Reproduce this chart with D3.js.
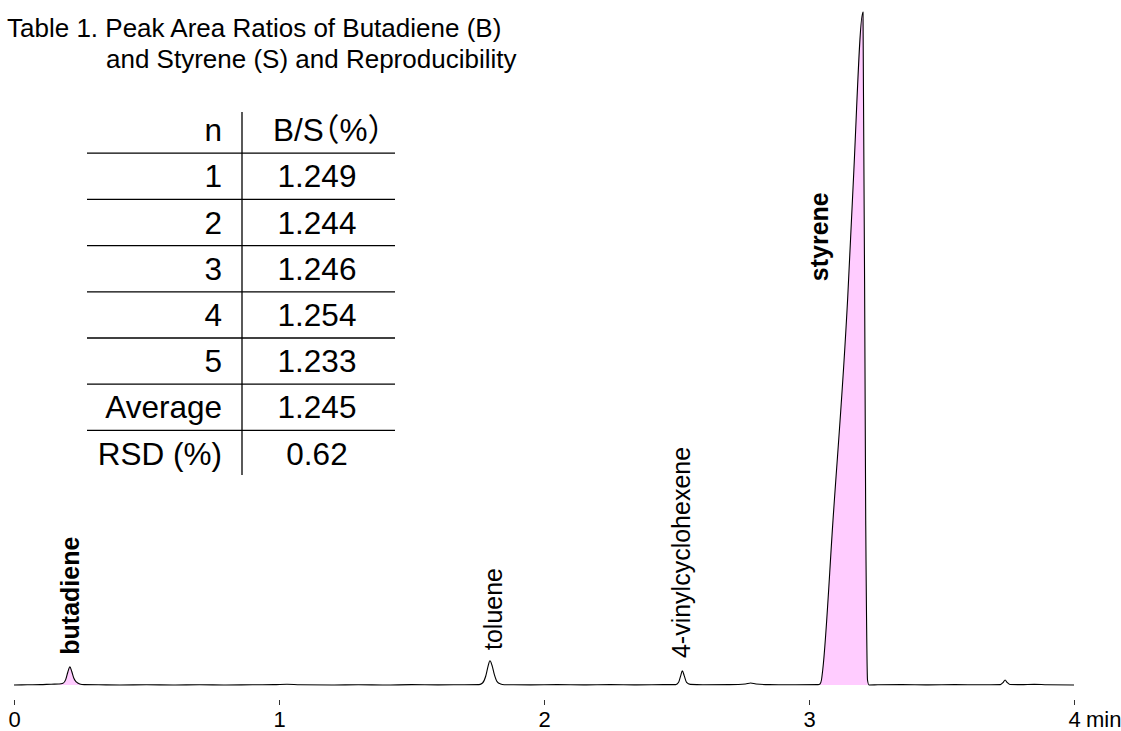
<!DOCTYPE html>
<html>
<head>
<meta charset="utf-8">
<script src="https://cdn.jsdelivr.net/npm/d3@7"></script>
<style>
  html, body { margin: 0; padding: 0; background: #fff; }
  svg { display: block; font-family: Arial, "Liberation Sans", "Noto Sans CJK JP", sans-serif; }
  .halfwidth { font-feature-settings: "halt" 1; }
</style>
</head>
<body>
<svg id="chart" width="1121" height="731"></svg>
<script>
// retention time (min) and detector signal (arbitrary units, styrene apex = 1000)
const traceTime = [
  0.00, 0.05, 0.10, 0.14, 0.17, 0.185, 0.195, 0.203, 0.211, 0.218, 0.226, 0.235, 0.248, 0.265,
  0.32, 0.40, 0.50, 0.60, 0.70, 0.80, 0.90, 0.98, 1.03, 1.08, 1.20, 1.30, 1.40, 1.50, 1.60, 1.70,
  1.755, 1.768, 1.780, 1.789, 1.796, 1.804, 1.813, 1.823, 1.836, 1.85,
  1.95, 2.05, 2.15, 2.25, 2.35, 2.45,
  2.497, 2.508, 2.516, 2.522, 2.529, 2.538, 2.552,
  2.60, 2.70, 2.76, 2.78, 2.80, 2.85, 2.95,
  3.034, 3.0415, 3.047, 3.0517, 3.0906, 3.146, 3.167, 3.2038, 3.214, 3.2208, 3.2264,
  3.26, 3.35, 3.45, 3.55, 3.65,
  3.722, 3.733, 3.740, 3.747, 3.758,
  3.80, 3.85, 3.90, 4.00
];
const traceSignal = [
  0, 0.3, 0.5, 1.2, 1.5, 2.5, 8, 19, 27, 20, 10, 4.5, 1.5, 0.5,
  0.3, 0, 0.3, 0, 0.4, 0, 0.3, 0.5, 1.2, 0.3, 0, 0.4, 0, 0.5, 0.2, 0.4,
  0.6, 3, 13, 28, 36, 29, 15, 5, 1.5, 0.4,
  0.2, 0.5, 0.2, 0.6, 0.2, 0.5,
  0.6, 4, 14, 21, 14, 4, 1,
  0.3, 0.6, 1.5, 3, 1.5, 0.5, 0.3,
  0.5, 1.5, 7.4, 22, 245, 575, 746, 1000, 245, 7.4, 0,
  0.3, 0.6, 0.2, 0.5, 0.3,
  0.6, 4, 7.5, 4, 0.8,
  0.5, 1, 0.3, 0
];

// shaded (integrated) peaks: start / end time
const shadeStart = [0.17, 3.034];
const shadeEnd = [0.265, 3.2264];

// peak labels
const peakNames = ["butadiene", "toluene", "4-vinylcyclohexene", "styrene"];
const peakTimes = [0.211, 1.808, 2.518, 3.04];
const peakLabelLevel = [45, 52, 40, 600];
const peakBold = [true, false, false, true];

const xTicks = [0, 1, 2, 3, 4];

// table 1
const titleLines = ["Table 1. Peak Area Ratios of Butadiene (B)", "and Styrene (S) and Reproducibility"];
const tableN = ["n", "1", "2", "3", "4", "5", "Average", "RSD (%)"];
const tableRatio = ["B/S（%）", "1.249", "1.244", "1.246", "1.254", "1.233", "1.245", "0.62"];

const svg = d3.select("#chart");
svg.append("rect").attr("width", 1121).attr("height", 731).attr("fill", "#fff");

const x = d3.scaleLinear().domain([0, 4]).range([14, 1074]);
const y = d3.scaleLinear().domain([0, 1000]).range([685, 12]);

const points = traceTime.map((t, i) => [t, traceSignal[i]]);

// shaded areas
const area = d3.area()
  .curve(d3.curveMonotoneX)
  .x(d => x(d[0]))
  .y0(y(0))
  .y1(d => y(d[1]));

shadeStart.forEach((s, i) => {
  const seg = points.filter(p => p[0] >= s && p[0] <= shadeEnd[i]);
  svg.append("path")
    .attr("d", area(seg))
    .attr("fill", "#ffccff");
});

// chromatogram trace
const line = d3.line()
  .curve(d3.curveMonotoneX)
  .x(d => x(d[0]))
  .y(d => y(d[1]));

svg.append("path")
  .attr("d", line(points))
  .attr("fill", "none")
  .attr("stroke", "#000")
  .attr("stroke-width", 1.1)
  .attr("stroke-linejoin", "round");

// x axis
const axis = svg.append("g")
  .attr("transform", "translate(0,700)")
  .call(d3.axisBottom(x).tickValues(xTicks).tickSize(5).tickPadding(6).tickFormat(d3.format("d")));
axis.select(".domain").remove();
axis.selectAll(".tick line").attr("stroke", "#333");
axis.selectAll(".tick text")
  .attr("fill", "#000")
  .attr("font-size", 22)
  .attr("font-family", "Arial, 'Liberation Sans', sans-serif");
axis.append("text")
  .attr("x", x(4) + 12)
  .attr("y", 11)
  .attr("dy", "0.71em")
  .attr("fill", "#000")
  .attr("font-size", 22)
  .attr("text-anchor", "start")
  .text("min");

// peak labels
peakNames.forEach((name, i) => {
  svg.append("text")
    .attr("transform", `translate(${x(peakTimes[i])},${y(peakLabelLevel[i])}) rotate(-90)`)
    .attr("dy", "0.35em")
    .attr("font-size", 25)
    .attr("font-weight", peakBold[i] ? "bold" : "normal")
    .attr("fill", "#000")
    .text(name);
});

// table title
svg.append("text").attr("x", 7).attr("y", 37).attr("font-size", 26).text(titleLines[0]);
svg.append("text").attr("x", 106).attr("y", 68).attr("font-size", 26).text(titleLines[1]);

// table body
const rowY = d3.scaleBand().domain(d3.range(tableN.length)).range([107, 476.6]);
const colLeft = 87, colRight = 395, colDivider = 242;

const table = svg.append("g");
table.append("line")
  .attr("x1", colDivider).attr("x2", colDivider)
  .attr("y1", 112).attr("y2", 475)
  .attr("stroke", "#000").attr("stroke-width", 1.3);

d3.range(1, tableN.length).forEach(i => {
  table.append("line")
    .attr("x1", colLeft).attr("x2", colRight)
    .attr("y1", rowY(i)).attr("y2", rowY(i))
    .attr("stroke", "#000").attr("stroke-width", 1.3);
});

tableN.forEach((d, i) => {
  const cy = rowY(i) + rowY.bandwidth() / 2;
  table.append("text")
    .attr("x", 222).attr("y", cy).attr("dy", "0.35em")
    .attr("text-anchor", "end").attr("font-size", 31.5)
    .text(d);
  table.append("text")
    .attr("class", i === 0 ? "halfwidth" : null)
    .attr("x", i === 0 ? 273 : 317).attr("y", cy).attr("dy", "0.35em")
    .attr("text-anchor", i === 0 ? "start" : "middle").attr("font-size", 31.5)
    .text(tableRatio[i]);
});
</script>
</body>
</html>
